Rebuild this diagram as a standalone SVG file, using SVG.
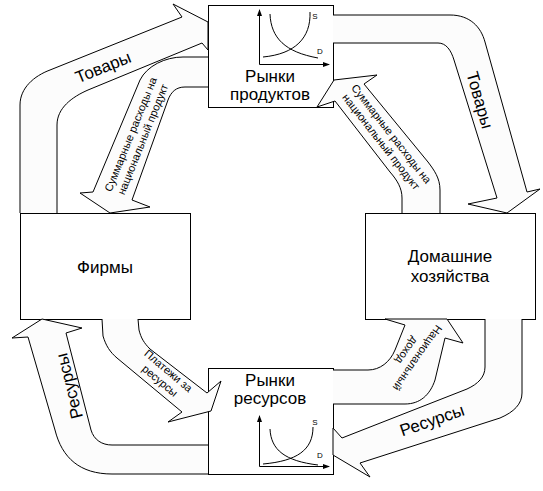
<svg xmlns="http://www.w3.org/2000/svg" width="543" height="491" viewBox="0 0 543 491">
<defs>
<marker id="ax" markerWidth="7" markerHeight="6" refX="6" refY="3" orient="auto" markerUnits="userSpaceOnUse"><path d="M0,0.5 L7,3 L0,5.5 Z" fill="#000"/></marker>
</defs>
<style>
.box{fill:#fff;stroke:#000;stroke-width:1}
.arr{fill:#fcfcfc;stroke:#000;stroke-width:1;stroke-linejoin:miter}
text{font-family:"Liberation Sans",Arial,sans-serif;fill:#000;text-anchor:middle}
.big{font-size:17px}
.lbl{font-size:17px}
.sm{font-size:11px}
.tiny{font-size:8px}
.ax{stroke:#000;stroke-width:1;fill:none}
.cv{stroke:#000;stroke-width:1;fill:none}
</style>
<rect width="543" height="491" fill="#fff"/>

<g id="product-market">
<rect class="box" x="208.5" y="5.5" width="125" height="102"/>
<line class="ax" x1="259.5" y1="64.5" x2="259.5" y2="10" marker-end="url(#ax)"/>
<line class="ax" x1="259.5" y1="64.5" x2="329" y2="64.5" marker-end="url(#ax)"/>
<path class="cv" d="M270,14 C271,38 285,52 318,58"/>
<path class="cv" d="M310,12 C311,38 295,54 263,57"/>
<text class="tiny" x="315" y="19">S</text>
<text class="tiny" x="320" y="54">D</text>
<text class="big" x="270" y="82">Рынки</text>
<text class="big" x="270" y="100">продуктов</text>
</g>

<g id="firms">
<rect class="box" x="20.5" y="213.5" width="170" height="106"/>
<text class="big" x="105" y="273">Фирмы</text>
</g>

<g id="households">
<rect class="box" x="365.5" y="213.5" width="170" height="106"/>
<text class="big" x="450" y="262">Домашние</text>
<text class="big" x="450" y="282">хозяйства</text>
</g>

<g id="resource-market">
<rect class="box" x="208.5" y="368.5" width="125" height="106"/>
<line class="ax" x1="259.5" y1="466.5" x2="259.5" y2="416" marker-end="url(#ax)"/>
<line class="ax" x1="259.5" y1="466.5" x2="329" y2="466.5" marker-end="url(#ax)"/>
<path class="cv" d="M270,429 C271,450 285,461 318,465"/>
<path class="cv" d="M313,427 C313,450 297,461 263,464"/>
<text class="tiny" x="315" y="425">S</text>
<text class="tiny" x="320" y="458">D</text>
<text class="big" x="270" y="386">Рынки</text>
<text class="big" x="270" y="404">ресурсов</text>
</g>

<g id="connectors">
<!-- Товары (left, up to product market) -->
<path class="arr" d="M20,213 L20,105 C20,88 34,76 50,70 L182,17 L173,4 L208,22 L208,50 L202,43 L88,90 C72,97 57,108 57,125 L57,213"/>
<text class="lbl" transform="translate(103,67) rotate(-22)" dy="6">Товары</text>

<!-- Суммарные расходы (left, down to firms) -->
<path class="arr" d="M208,57 L183,57 C165,57 147,66 140,80 L93,192 L80,193 L110,213 L150,207 L132,200 L168,100 C171,92 176,87 185,87 L208,87"/>
<g transform="translate(137,137) rotate(-68)">
<text class="sm" y="-3">Суммарные расходы на</text>
<text class="sm" y="10">национальный продукт</text>
</g>

<!-- Товары (right, down to households) -->
<path class="arr" d="M333,15 L450,15 C470,15 481,27 485,42 L527,192 L540,189 L507,213 L468,204 L497,198 L454,60 C451,50 446,43 438,43 L333,43"/>
<text class="lbl" transform="translate(480,100) rotate(74)" dy="6">Товары</text>

<!-- Суммарные расходы (right, up to product market) -->
<path class="arr" d="M402,213 L402,198 C402,188 397,180 390,172 L335,101 L317,107 L334,80 L377,75 L364,84 L428,162 C434,170 440,178 440,190 L440,213"/>
<g transform="translate(386,138) rotate(52)">
<text class="sm" y="-3">Суммарные расходы на</text>
<text class="sm" y="10">национальный продукт</text>
</g>

<!-- Платежи за ресурсы -->
<path class="arr" d="M102,319 L103,336 C106,346 110,352 117,358 L182,412 L168,422 L211,411 L221,381 L207,393 L150,349 C144,343 141,338 139,330 L138,319"/>
<g transform="translate(164,376) rotate(40)">
<text class="sm" y="-3">Платежи за</text>
<text class="sm" y="10">ресурсы</text>
</g>

<!-- Ресурсы (left, up to firms) -->
<path class="arr" d="M208,445 L112,445 C102,445 94,440 91,430 L66,333 L82,328 L42,319 L12,338 L28,337 L55,430 C62,458 80,474 112,474 L208,474"/>
<text class="lbl" transform="translate(69,386) rotate(-104)" dy="6">Ресурсы</text>

<!-- Национальный доход -->
<path class="arr" d="M333,370 L368,370 C380,370 390,362 395,350 L405,325 L385,319 L447,319 L463,343 L445,338 L435,380 C430,395 420,404 405,404 L333,404"/>
<g transform="translate(412,354) rotate(125)">
<text class="sm" y="-3">Национальный</text>
<text class="sm" y="10">доход</text>
</g>

<!-- Ресурсы (right, down to resource market) -->
<path class="arr" d="M485,319 L485,367 C485,377 478,384 467,389 L342,438 L333,428 L333,455 L370,477 L360,463 L500,418 C514,412 522,404 522,393 L522,319"/>
<text class="lbl" transform="translate(432,420) rotate(-19)" dy="6">Ресурсы</text>
</g>
</svg>
